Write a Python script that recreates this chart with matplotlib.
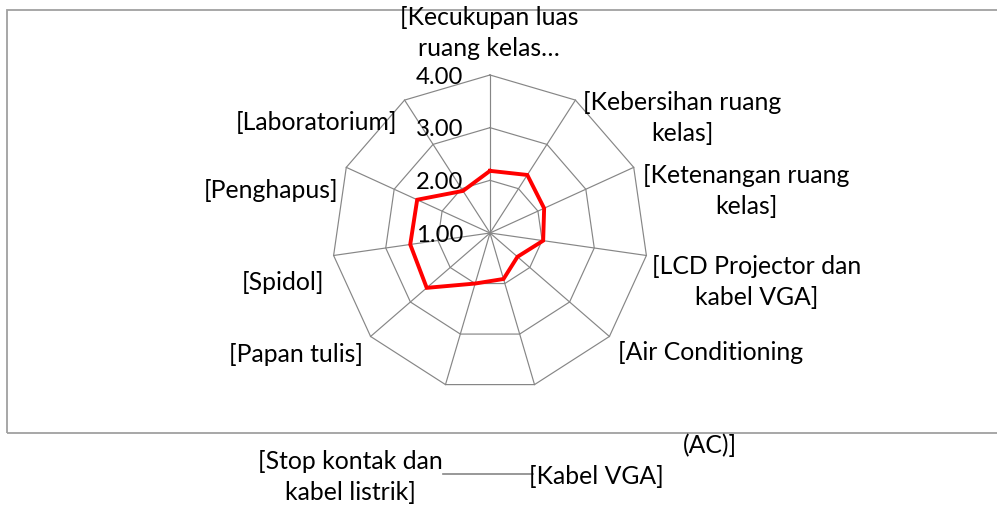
import numpy as np
import matplotlib
matplotlib.use("Agg")
import matplotlib.pyplot as plt
from matplotlib.patches import Rectangle
from matplotlib.lines import Line2D

categories = [
    "[Kecukupan luas\nruang kelas…",
    "[Kebersihan ruang\nkelas]",
    "[Ketenangan ruang\nkelas]",
    "[LCD Projector dan\nkabel VGA]",
    "[Air Conditioning",
    "[Kabel VGA]",
    "[Stop kontak dan\nkabel listrik]",
    "[Papan tulis]",
    "[Spidol]",
    "[Penghapus]",
    "[Laboratorium]",
]
extra_label = "(AC)]"
values = [2.18, 2.31, 2.13, 2.02, 1.69, 1.91, 2.00, 2.59, 2.53, 2.52, 1.95]
ring_values = [1.0, 2.0, 3.0, 4.0]
tick_labels = ["1.00", "2.00", "3.00", "4.00"]

W, H = 997, 508
fig = plt.figure(figsize=(W / 100, H / 100), dpi=100)
FONT = "Lato"
FS = 17.8
FS_TICK = 17.2

def px(x, y):
    return x / W, 1 - y / H

# outer frame
fig.patches.append(Rectangle(px(7, 433), (1003 - 7) / W, (433 - 10) / H,
                             transform=fig.transFigure, fill=False,
                             edgecolor="#a0a0a0", linewidth=1.3))

cx, cy, R = 490, 233, 158
ax = fig.add_axes([(cx - R) / W, (H - cy - R) / H, 2 * R / W, 2 * R / H],
                  projection="polar")
ax.set_theta_zero_location("N")
ax.set_theta_direction(-1)
ax.set_ylim(1, 4)
ax.grid(False)
ax.set_xticks([])
ax.set_yticks([])
ax.spines["polar"].set_visible(False)
ax.patch.set_alpha(0)

n = len(categories)
angles = np.arange(n) * 2 * np.pi / n
closed = np.append(angles, angles[0])

gc = "#868686"
for v in ring_values[1:]:
    ax.plot(closed, [v] * (n + 1), color=gc, lw=0.85, clip_on=False, zorder=1)
for a in angles:
    ax.plot([a, a], [ring_values[0], ring_values[-1]], color=gc, lw=0.85,
            clip_on=False, zorder=1)

ax.plot(closed, values + [values[0]], color="#ff0000", lw=2.8,
        clip_on=False, zorder=3, solid_joinstyle="miter")

for v, t in zip(ring_values, tick_labels):
    ax.annotate(t, xy=(0, v), xytext=(-27, -2), textcoords="offset pixels",
                ha="right", va="center", fontsize=FS_TICK, family=FONT,
                color="black", zorder=4)

label_pos = [
    (489, 33), (682, 118), (746, 191), (757, 282), (711, 352),
    (596, 477), (350, 477), (296, 355), (283, 283), (271, 190), (317, 123),
]
for lab, (x, y) in zip(categories, label_pos):
    fig.text(*px(x, y), lab, ha="center", va="center", fontsize=FS,
             family=FONT, linespacing=1.4, multialignment="center")
fig.text(*px(710, 445), extra_label, ha="center", va="center", fontsize=FS,
         family=FONT)

fig.lines.append(Line2D([443 / W, 533 / W], [1 - 474 / H, 1 - 474 / H],
                        transform=fig.transFigure, color="#868686", lw=1.2))

fig.savefig("out.png", dpi=100)
